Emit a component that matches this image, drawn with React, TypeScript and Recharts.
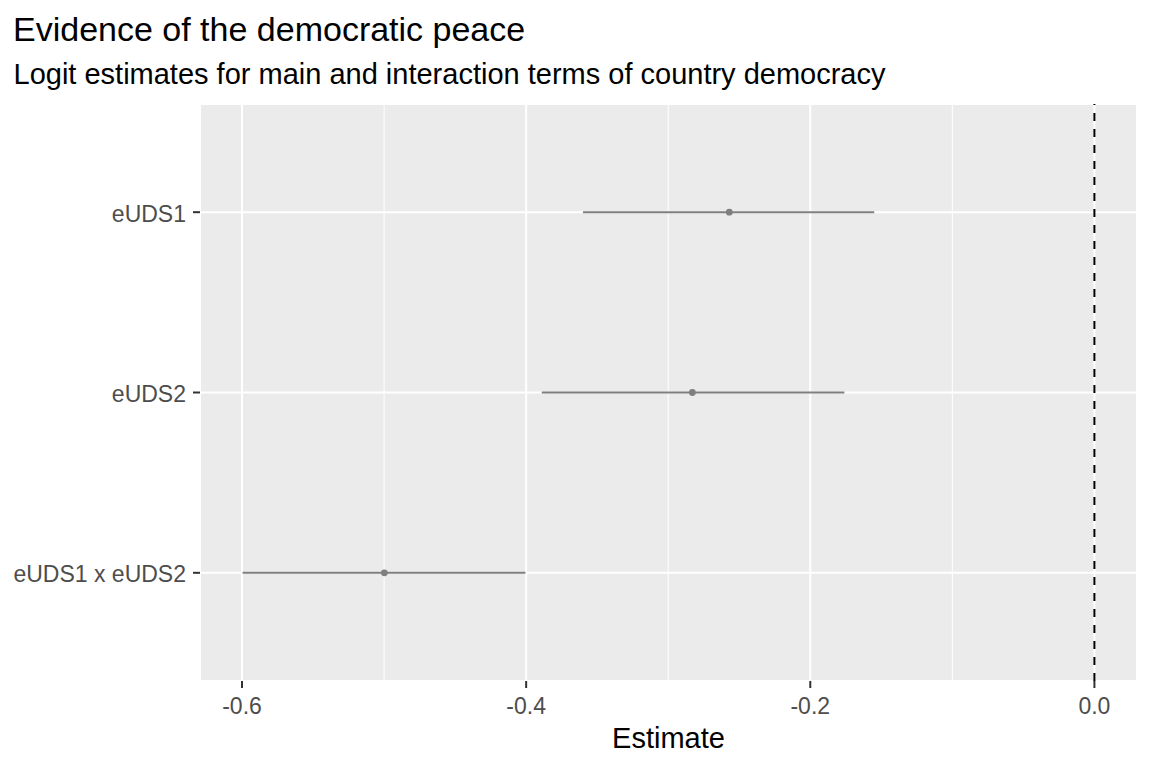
import React from "react";
import {
  ScatterChart,
  Scatter,
  XAxis,
  YAxis,
  CartesianGrid,
  ErrorBar,
  ReferenceLine,
} from "recharts";

// ---- data ----
const terms = ["eUDS1", "eUDS2", "eUDS1 x eUDS2"];
const estimates = [-0.257, -0.283, -0.4998];
const lowerBounds = [-0.36, -0.389, -0.5996];
const upperBounds = [-0.155, -0.176, -0.4005];
const xTicks = [-0.6, -0.4, -0.2, 0.0];
const xTickLabels = ["-0.6", "-0.4", "-0.2", "0.0"];
const xMinorTicks = [-0.5, -0.3, -0.1];
const refValue = 0;

const titleText = "Evidence of the democratic peace";
const subtitleText = "Logit estimates for main and interaction terms of country democracy";
const xTitle = "Estimate";

// ---- derived ----
const rows = terms.map((t, i) => ({
  term: t,
  pos: terms.length - i,
  est: estimates[i],
  err: [estimates[i] - lowerBounds[i], upperBounds[i] - estimates[i]],
}));
const yTicks = terms.map((_, i) => terms.length - i).sort((a, b) => a - b);
const lo = Math.min(...lowerBounds, refValue);
const hi = Math.max(...upperBounds, refValue);
const pad = 0.05 * (hi - lo);
const xDomain = [lo - pad, hi + pad];
const yDomain = [1 - 0.6, terms.length + 0.6];

const FONT = "'Liberation Sans', Arial, Helvetica, sans-serif";
const GREY = "#7F7F7F";

const XTick = (props: any) => {
  const idx = xTicks.findIndex((v) => Math.abs(v - props.payload.value) < 1e-9);
  return (
    <text
      x={props.x}
      y={props.y + 26}
      textAnchor="middle"
      fontSize={23}
      fill="#4D4D4D"
      fontFamily={FONT}
    >
      {idx >= 0 ? xTickLabels[idx] : String(props.payload.value)}
    </text>
  );
};

const YTick = (props: any) => {
  const label = terms[terms.length - props.payload.value];
  return (
    <text
      x={props.x}
      y={props.y + 9.5}
      textAnchor="end"
      fontSize={23}
      fill="#4D4D4D"
      fontFamily={FONT}
    >
      {label}
    </text>
  );
};

const Dot = (props: any) => (
  <circle cx={props.cx} cy={props.cy} r={3.4} fill={GREY} />
);

export default function App() {
  return (
    <div
      style={{
        position: "absolute",
        left: 0,
        top: 0,
        width: 1152,
        height: 768,
        background: "#FFFFFF",
      }}
    >
      <ScatterChart
        width={1152}
        height={768}
        margin={{ top: 104, right: 15, bottom: 0, left: 0 }}
      >
        <CartesianGrid
          fill="#EBEBEB"
          stroke="#FFFFFF"
          strokeWidth={2}
          horizontal={true}
          vertical={true}
        />
        {xMinorTicks.map((v) => (
          <ReferenceLine key={v} x={v} stroke="#FFFFFF" strokeWidth={1} />
        ))}
        <XAxis
          type="number"
          dataKey="est"
          domain={xDomain}
          allowDataOverflow={true}
          ticks={xTicks}
          interval={0}
          height={87}
          axisLine={false}
          tickLine={{ stroke: "#333333", strokeWidth: 2 }}
          tickSize={7}
          tickMargin={0}
          tick={<XTick />}
        />
        <YAxis
          type="number"
          dataKey="pos"
          domain={yDomain}
          allowDataOverflow={true}
          ticks={yTicks}
          interval={0}
          width={200}
          axisLine={false}
          tickLine={{ stroke: "#333333", strokeWidth: 2 }}
          tickSize={7}
          tickMargin={7}
          tick={<YTick />}
        />
        <ReferenceLine
          x={refValue}
          stroke="#000000"
          strokeWidth={2}
          strokeDasharray="8 8"
        />
        <Scatter
          data={rows}
          fill={GREY}
          shape={<Dot />}
          isAnimationActive={false}
        >
          <ErrorBar
            dataKey="err"
            direction="x"
            width={0}
            stroke={GREY}
            strokeWidth={2}
            isAnimationActive={false}
          />
        </Scatter>
      </ScatterChart>
      <svg
        width={1152}
        height={768}
        style={{ position: "absolute", left: 0, top: 0, pointerEvents: "none" }}
      >
        <text x={13} y={41} fontSize={34} fill="#000000" fontFamily={FONT}>
          {titleText}
        </text>
        <text x={13.5} y={84} fontSize={29} fill="#000000" fontFamily={FONT}>
          {subtitleText}
        </text>
        <text
          x={668.5}
          y={748}
          fontSize={29}
          fill="#000000"
          textAnchor="middle"
          fontFamily={FONT}
        >
          {xTitle}
        </text>
      </svg>
    </div>
  );
}
